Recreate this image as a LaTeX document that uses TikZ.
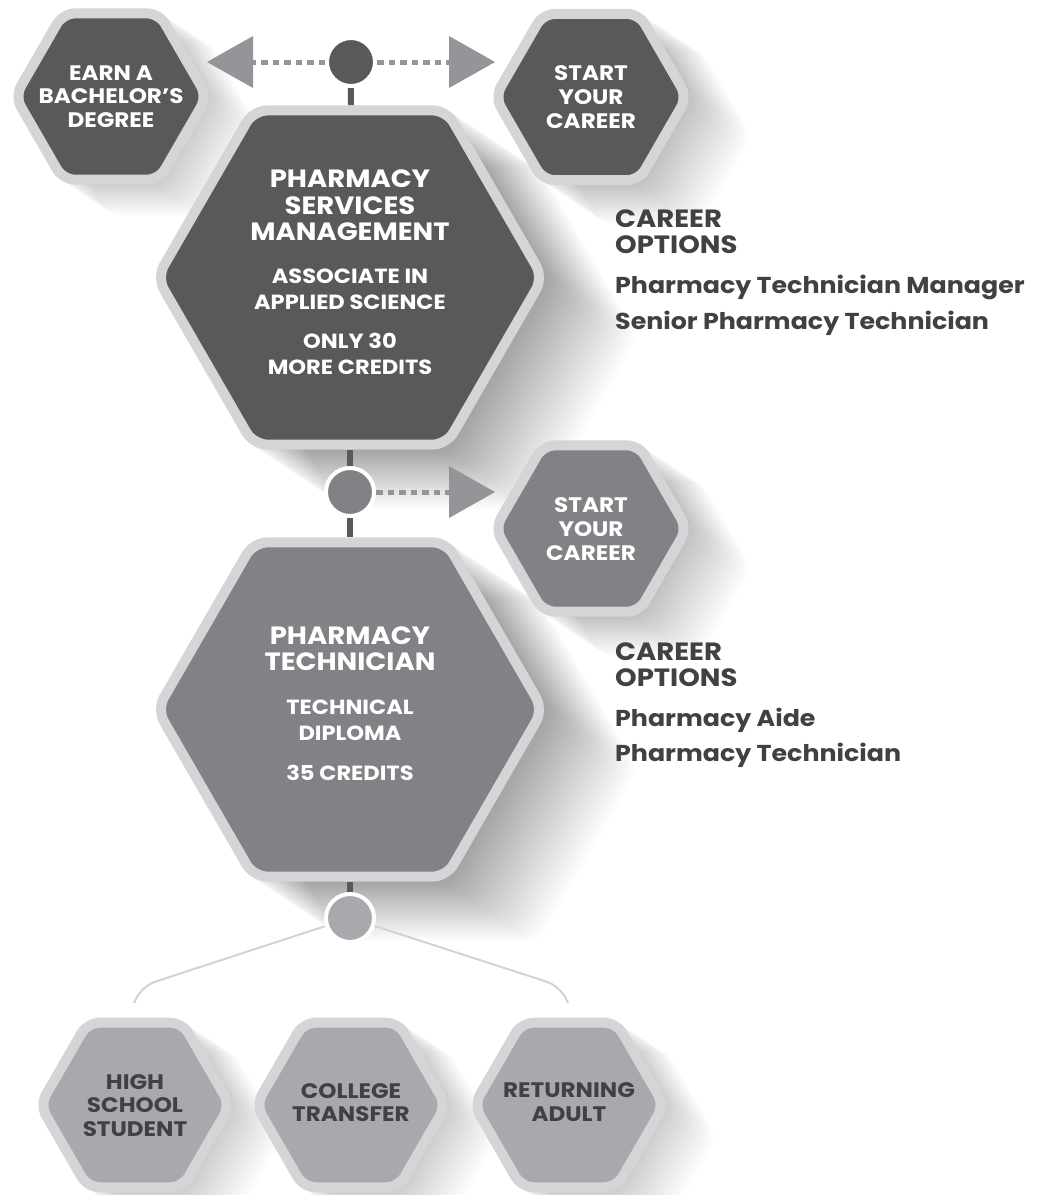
\documentclass[tikz,border=0pt]{standalone}
\usepackage{fontspec}
\setmainfont{Poppins}[FakeStretch=1.1]
\usepackage{tikz}
\usetikzlibrary{shapes.geometric,arrows.meta,positioning,calc}

\definecolor{hexdark}{HTML}{58595B}
\definecolor{hexmid}{HTML}{808285}
\definecolor{hexlight}{HTML}{A7A9AC}
\definecolor{rim}{HTML}{D4D5D7}
\definecolor{arrowgray}{HTML}{939598}
\definecolor{inkgray}{HTML}{414042}
\definecolor{branchgray}{HTML}{D1D3D4}

\pgfdeclarelayer{shadows}
\pgfdeclarelayer{links}
\pgfsetlayers{shadows,links,main}

%% long soft shadow: centre x, centre y, radius, steps
\newcommand{\hexshadow}[4]{%
  \foreach \k in {1,...,#4}{
    \fill[black,opacity=0.013,rounded corners=14pt,shift={({#1+3*\k},{#2-2*\k})}]
      (0:#3) -- (60:#3) -- (120:#3) -- (180:#3) -- (240:#3) -- (300:#3) -- cycle;}}

\begin{document}
\begin{tikzpicture}[x=1pt,y=1pt,
    hexbig/.style={regular polygon,regular polygon sides=6,minimum size=386pt,
      draw=rim,line width=10pt,rounded corners=14pt,inner sep=0pt},
    hexsmall/.style={regular polygon,regular polygon sides=6,minimum size=192pt,
      draw=rim,line width=10pt,rounded corners=12pt,inner sep=0pt},
    hexlow/.style={hexsmall,minimum size=190pt,fill=hexlight},
    hextitle/.style={text=white,inner sep=0pt,align=center,
      font=\bfseries\fontsize{25}{26.5}\selectfont},
    hexsub/.style={text=white,inner sep=0pt,align=center,
      font=\bfseries\fontsize{20.5}{26}\selectfont},
    hexword/.style={text=white,inner sep=0pt,align=center,
      font=\bfseries\fontsize{21}{23.8}\selectfont},
    lowword/.style={hexword,text=inkgray},
    optitle/.style={text=inkgray,inner sep=0pt,anchor=base west,
      font=\bfseries\fontsize{25}{26}\selectfont},
    opjob/.style={text=inkgray,inner sep=0pt,anchor=base west,
      font=\bfseries\fontsize{23}{26}\selectfont},
    dot/.style={circle,minimum size=48pt,inner sep=0pt,draw=white,line width=4pt},
    stem/.style={hexdark,line width=6pt},
    dotline/.style={arrowgray,line width=5pt,dash pattern=on 6.5pt off 5pt,
      -{Triangle[length=46pt,width=52pt,line width=0pt]}},
    branch/.style={branchgray,line width=2pt,rounded corners=14pt}]

  \useasboundingbox (0,0) rectangle (1040,-1195);

  %% shadows first, on their own layer
  \begin{pgfonlayer}{shadows}
    \fill[white] (0,0) rectangle (1040,-1195);
    \hexshadow{111}{-96.5}{101}{16}
    \hexshadow{591}{-97}{101}{20}
    \hexshadow{350}{-277.5}{198}{30}
    \hexshadow{591}{-528.5}{101}{20}
    \hexshadow{350}{-709.5}{198}{30}
    \foreach \cx in {135,351,569}{
      \hexshadow{\cx}{-1105}{100}{16}
    }
  \end{pgfonlayer}

  %% the hexagons
  \node[hexsmall,fill=hexdark] (earn) at (111,-96.5){};
  \node[hexsmall,fill=hexdark] (startA) at (591,-97){};
  \node[hexbig,fill=hexdark] (psm) at (350,-277.5){};
  \node[hexsmall,fill=hexmid] (startB) at (591,-528.5){};
  \node[hexbig,fill=hexmid] (pt) at (350,-709.5){};
  \node[hexlow] (hs) at (135,-1105){};
  \node[hexlow] (ct) at (351,-1105){};
  \node[hexlow] (ra) at (569,-1105){};

  %% junction dots
  \node[dot,fill=hexdark] (topdot) at (351,-62){};
  \node[dot,fill=hexmid] (middot) at (350,-492){};
  \node[dot,fill=hexlight] (botdot) at (350,-918){};

  %% free ends of the connectors
  \coordinate (lefttip) at (207,-62);
  \coordinate (righttip) at (495,-62);
  \coordinate (midtip) at (495,-492);
  \coordinate (hsbend) at (142,-986);\coordinate (hsend) at (134,-1003);
  \coordinate (rabend) at (560,-986);\coordinate (raend) at (568,-1003);

  \begin{pgfonlayer}{links}
    \draw[stem] (topdot) -- (psm);
    \draw[stem] (psm) -- (middot) -- (pt);
    \draw[stem] (pt) -- (botdot);
    \draw[branch] (botdot) -- (hsbend) -- (hsend);
    \draw[branch] (botdot) -- (rabend) -- (raend);
  \end{pgfonlayer}
  \draw[dotline] (topdot) -- (lefttip);
  \draw[dotline] (topdot) -- (righttip);
  \draw[dotline] (middot) -- (midtip);

  %% texts inside the hexagons
  \node[hexword] (earntext) at (111,-96.5){EARN A\\BACHELOR'S\\DEGREE};
  \node[hexword] (startAtext) at (591,-97){START\\YOUR\\CAREER};
  \node[hextitle] (psmtitle) at (350,-205.5){PHARMACY\\SERVICES\\MANAGEMENT};
  \node[hexsub] (psmdegree) at (350,-289){ASSOCIATE IN\\APPLIED SCIENCE};
  \node[hexsub] (psmcredits) at (350,-354){ONLY 30\\MORE CREDITS};
  \node[hexword] (startBtext) at (591,-529){START\\YOUR\\CAREER};
  \node[hextitle] (pttitle) at (350,-648.5){PHARMACY\\TECHNICIAN};
  \node[hexsub] (ptdiploma) at (350,-720.5){TECHNICAL\\DIPLOMA};
  \node[hexsub] (ptcredits) at (350,-773){35 CREDITS};
  \node[lowword] (hstext) at (135,-1105.5){HIGH\\SCHOOL\\STUDENT};
  \node[lowword] (cttext) at (351,-1102.5){COLLEGE\\TRANSFER};
  \node[lowword] (ratext) at (569,-1102.5){RETURNING\\ADULT};

  %% career options beside the start hexagons
  \node[optitle] (optA1) at (615,-227){CAREER};
  \node[optitle] (optA2) at (615,-253){OPTIONS};
  \node[opjob] (jobA1) at (615,-293){Pharmacy Technician Manager};
  \node[opjob] (jobA2) at (615,-329){Senior Pharmacy Technician};
  \node[optitle] (optB1) at (615,-660){CAREER};
  \node[optitle] (optB2) at (615,-686){OPTIONS};
  \node[opjob] (jobB1) at (615,-726){Pharmacy Aide};
  \node[opjob] (jobB2) at (615,-761){Pharmacy Technician};
\end{tikzpicture}
\end{document}
